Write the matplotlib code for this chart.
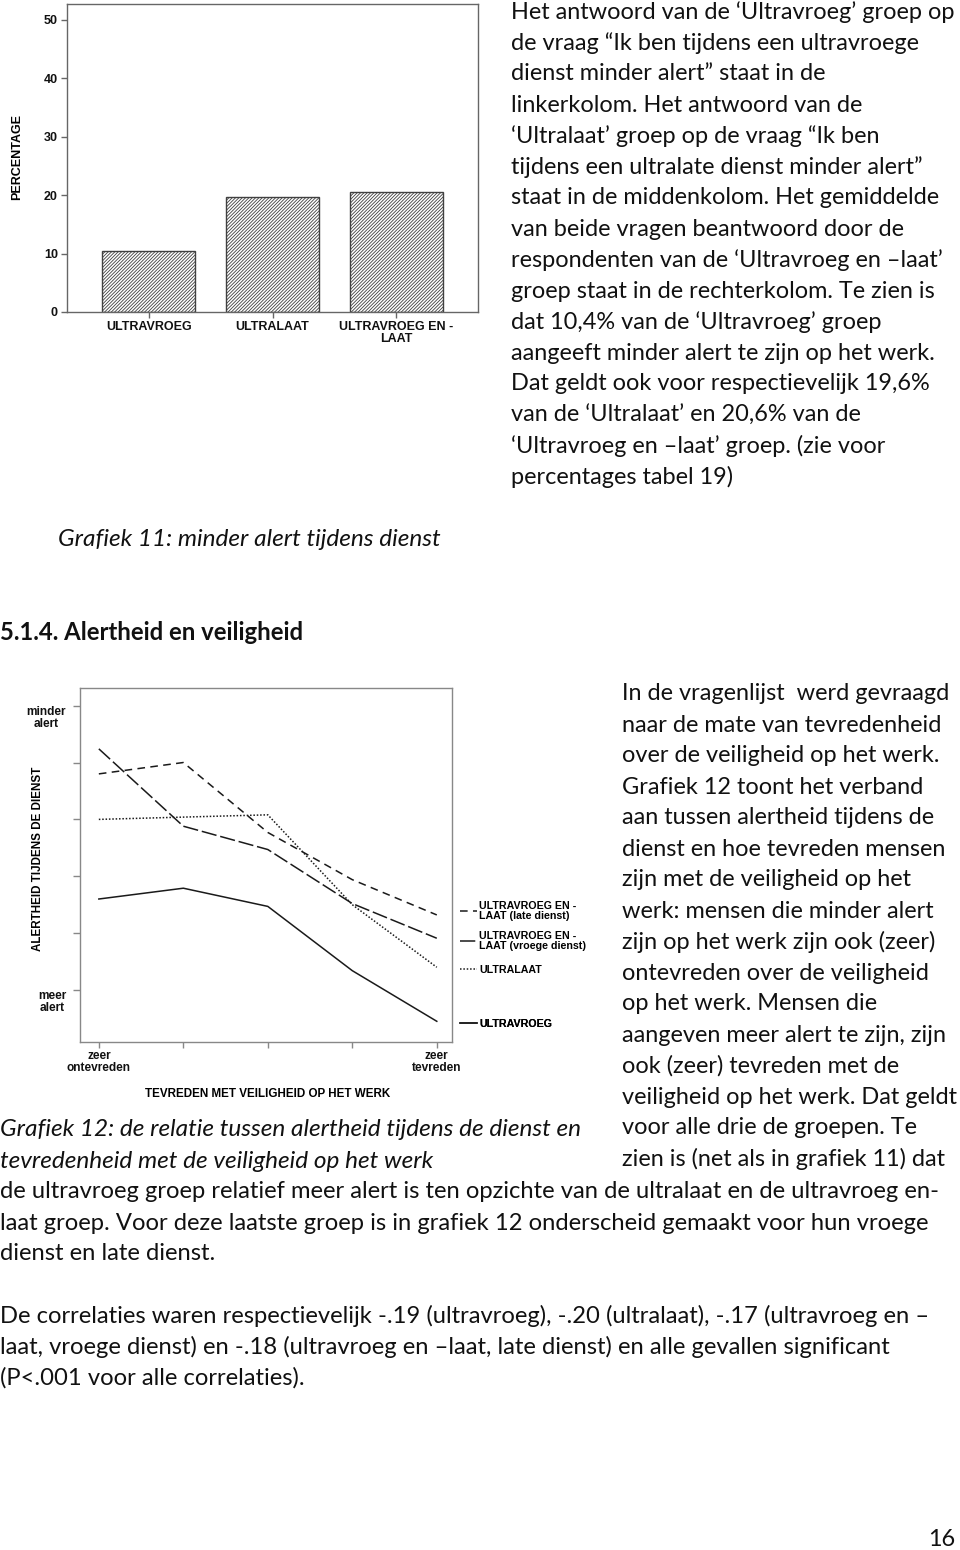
import matplotlib
matplotlib.use("Agg")
import matplotlib.pyplot as plt

# ================================================================================
# data: grafiek 11 (percentage minder alert)
bar_categories = ["ULTRAVROEG", "ULTRALAAT", "ULTRAVROEG EN -\nLAAT"]
bar_percent = [10.4, 19.6, 20.6]
bar_yticks = [0, 10, 20, 30, 40, 50]

# data: grafiek 12 (alertheid vs tevredenheid), y in tick units (0 = meer alert, 5 = minder alert)
tevreden_levels = [1, 2, 3, 4, 5]
tevreden_ticklabels = ["zeer\nontevreden", "", "", "", "zeer\ntevreden"]
alert_levels = [0, 1, 2, 3, 4, 5]
alert_ticklabels = ["meer\nalert", "", "", "", "", "minder\nalert"]
late_dienst = [3.80, 4.00, 2.77, 1.94, 1.32]
vroege_dienst = [4.24, 2.88, 2.47, 1.52, 0.91]
ultralaat = [3.00, 3.04, 3.08, 1.50, 0.40]
ultravroeg = [1.60, 1.79, 1.47, 0.34, -0.55]

# ================================================================================
# page text
col1_lines = [
  "Het antwoord van de \u2018Ultravroeg\u2019 groep op",
  "de vraag \u201cIk ben tijdens een ultravroege",
  "dienst minder alert\u201d staat in de",
  "linkerkolom. Het antwoord van de",
  "\u2018Ultralaat\u2019 groep op de vraag \u201cIk ben",
  "tijdens een ultralate dienst minder alert\u201d",
  "staat in de middenkolom. Het gemiddelde",
  "van beide vragen beantwoord door de",
  "respondenten van de \u2018Ultravroeg en \u2013laat\u2019",
  "groep staat in de rechterkolom. Te zien is",
  "dat 10,4% van de \u2018Ultravroeg\u2019 groep",
  "aangeeft minder alert te zijn op het werk.",
  "Dat geldt ook voor respectievelijk 19,6%",
  "van de \u2018Ultralaat\u2019 en 20,6% van de",
  "\u2018Ultravroeg en \u2013laat\u2019 groep. (zie voor",
  "percentages tabel 19)",
]
col2_lines = [
  "In de vragenlijst  werd gevraagd",
  "naar de mate van tevredenheid",
  "over de veiligheid op het werk.",
  "Grafiek 12 toont het verband",
  "aan tussen alertheid tijdens de",
  "dienst en hoe tevreden mensen",
  "zijn met de veiligheid op het",
  "werk: mensen die minder alert",
  "zijn op het werk zijn ook (zeer)",
  "ontevreden over de veiligheid",
  "op het werk. Mensen die",
  "aangeven meer alert te zijn, zijn",
  "ook (zeer) tevreden met de",
  "veiligheid op het werk. Dat geldt",
  "voor alle drie de groepen. Te",
  "zien is (net als in grafiek 11) dat",
]
caption12_lines = [
  "Grafiek 12: de relatie tussen alertheid tijdens de dienst en",
  "tevredenheid met de veiligheid op het werk",
]
bottom_lines = [
  "de ultravroeg groep relatief meer alert is ten opzichte van de ultralaat en de ultravroeg en-",
  "laat groep. Voor deze laatste groep is in grafiek 12 onderscheid gemaakt voor hun vroege",
  "dienst en late dienst.",
  "",
  "De correlaties waren respectievelijk -.19 (ultravroeg), -.20 (ultralaat), -.17 (ultravroeg en \u2013",
  "laat, vroege dienst) en -.18 (ultravroeg en \u2013laat, late dienst) en alle gevallen significant",
  "(P<.001 voor alle correlaties).",
]

# ================================================================================
W, H = 960, 1550
BODY = ["Lato", "DejaVu Sans"]
CHART = ["Liberation Sans", "DejaVu Sans"]
body_size = 16.9
italic_size = 17.6
line_step = 31.0
ink = "#111111"

plt.rcParams["hatch.linewidth"] = 0.6

fig = plt.figure(figsize=(W / 100, H / 100), dpi=100)
fig.patch.set_facecolor("white")

# page overlay in pixel coordinates
page = fig.add_axes([0, 0, 1, 1])
page.set_xlim(0, W)
page.set_ylim(H, 0)
page.set_axis_off()

def put_lines(lines, x, y0, size=body_size, **kw):
  for i, line in enumerate(lines):
    page.text(x, y0 + i * line_step, line, ha="left", va="center",
              fontsize=size, family=BODY, color=ink, **kw)

put_lines(col1_lines, 511, 12)
page.text(58, 540, "Grafiek 11: minder alert tijdens dienst", ha="left", va="center",
          fontsize=italic_size, family=BODY, style="italic", color=ink)
page.text(0, 632, "5.1.4. Alertheid en veiligheid", ha="left", va="center",
          fontsize=17.2, family=BODY, weight="bold", color=ink)
put_lines(col2_lines, 622, 694)
put_lines(caption12_lines, 0, 1130, size=italic_size, style="italic")
put_lines(bottom_lines, 0, 1192, size=17.1)
page.text(955, 1540, "16", ha="right", va="center", fontsize=body_size, family=BODY, color=ink)

def ax_rect(left, top, right, bottom):
  return [left / W, 1 - bottom / H, (right - left) / W, (bottom - top) / H]

# ================================================================================
# Grafiek 11
ax1 = fig.add_axes(ax_rect(67, 4, 478, 312))
ax1.bar(range(len(bar_categories)), bar_percent, width=0.75, color="white",
        edgecolor="#404040", linewidth=1.0, hatch="/" * 10)
ax1.set_xlim(-0.66, 2.66)
ax1.set_ylim(0, 52.7)
ax1.set_yticks(bar_yticks)
ax1.set_xticks(range(len(bar_categories)))
ax1.set_xticklabels(bar_categories, family=CHART, fontsize=9, weight="bold", linespacing=1.0)
for lab in ax1.get_yticklabels():
  lab.set_family(CHART)
  lab.set_fontsize(9)
  lab.set_weight("bold")
ax1.set_ylabel("PERCENTAGE", family=CHART, fontsize=9, weight="bold")
ax1.yaxis.set_label_coords(-0.107, 0.503)
for sp in ax1.spines.values():
  sp.set_color("#666666")
  sp.set_linewidth(1.0)
ax1.tick_params(axis="both", colors="#666666", labelcolor=ink, length=4, width=1.0, pad=2.5)

# ================================================================================
# Grafiek 12
ax2 = fig.add_axes(ax_rect(80, 688, 452, 1042))
lw = 1.1
h_late, = ax2.plot(tevreden_levels, late_dienst, color="#1a1a1a", lw=lw, dashes=(5, 3.5))
h_vroeg, = ax2.plot(tevreden_levels, vroege_dienst, color="#1a1a1a", lw=lw, dashes=(10, 2.5))
h_laat, = ax2.plot(tevreden_levels, ultralaat, color="#1a1a1a", lw=lw, dashes=(1, 1.2))
h_vroeg_ultra, = ax2.plot(tevreden_levels, ultravroeg, color="#1a1a1a", lw=lw)
ax2.set_xlim(0.777, 5.18)
ax2.set_ylim(-0.914, 5.31)
ax2.set_xticks(tevreden_levels)
ax2.set_xticklabels(tevreden_ticklabels, family=CHART, fontsize=8.6, weight="bold", linespacing=1.0)
ax2.set_yticks(alert_levels)
ax2.set_yticklabels(alert_ticklabels, family=CHART, fontsize=8.6, weight="bold", linespacing=1.0)
for lab in ax2.get_yticklabels():
  lab.set_multialignment("center")
  lab.set_va("top")
ax2.set_ylabel("ALERTHEID TIJDENS DE DIENST", family=CHART, fontsize=8.4, weight="bold")
ax2.yaxis.set_label_coords(-0.097, 0.517)
ax2.set_xlabel("TEVREDEN MET VEILIGHEID OP HET WERK", family=CHART, fontsize=8.4, weight="bold")
ax2.xaxis.set_label_coords(0.505, -0.13)
for sp in ax2.spines.values():
  sp.set_color("#888888")
  sp.set_linewidth(1.0)
ax2.tick_params(axis="x", colors="#888888", labelcolor=ink, length=4, width=1.0, pad=2)
ax2.tick_params(axis="y", colors="#888888", labelcolor=ink, length=5, width=1.0, pad=5)

legend_items = [
  (h_late, "ULTRAVROEG EN -\nLAAT (late dienst)", 911),
  (h_vroeg, "ULTRAVROEG EN -\nLAAT (vroege dienst)", 941),
  (h_laat, "ULTRALAAT", 970),
  (h_vroeg_ultra, "ULTRAVROEG", 1024),
]
for handle, label, ypix in legend_items:
  leg = ax2.legend([handle], [label], loc="center left",
                   bbox_to_anchor=(460 / W, 1 - ypix / H), bbox_transform=fig.transFigure,
                   frameon=False, borderpad=0, borderaxespad=0, handlelength=1.6,
                   handletextpad=0.2, prop={"family": CHART, "size": 7.7, "weight": "bold"})
  for t in leg.get_texts():
    t.set_linespacing(1.0)
  ax2.add_artist(leg)

plt.savefig("out.png", dpi=100, facecolor="white")
